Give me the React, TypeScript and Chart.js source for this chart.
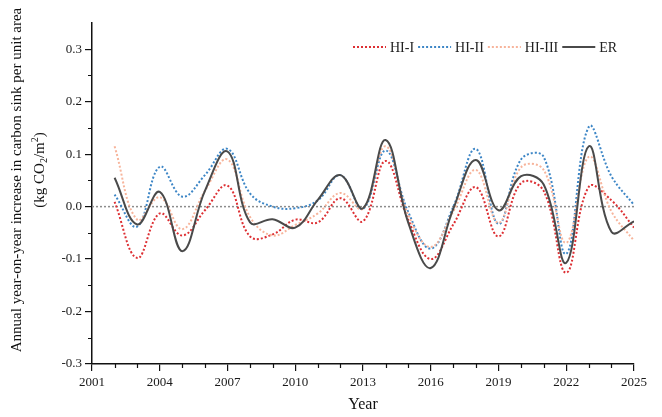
import React, { useEffect, useRef } from 'react';
import { Chart, registerables } from 'chart.js';

Chart.register(...registerables);

const years = [2002, 2003, 2004, 2005, 2006, 2007, 2008, 2009, 2010, 2011, 2012, 2013, 2014, 2015, 2016, 2017, 2018, 2019, 2020, 2021, 2022, 2023, 2024, 2025];

const hiI = [0.009, -0.098, -0.013, -0.055, -0.007, 0.040, -0.057, -0.053, -0.025, -0.030, 0.016, -0.028, 0.087, -0.025, -0.100, -0.034, 0.037, -0.057, 0.045, 0.030, -0.126, 0.038, 0.012, -0.040];
const hiII = [0.023, -0.038, 0.076, 0.019, 0.060, 0.110, 0.025, 0.000, -0.003, 0.012, 0.060, -0.004, 0.107, -0.010, -0.080, 0.000, 0.110, -0.033, 0.090, 0.095, -0.090, 0.152, 0.058, 0.003];
const hiIII = [0.115, -0.025, 0.018, -0.043, 0.030, 0.090, -0.020, -0.055, -0.035, -0.013, 0.026, -0.004, 0.115, -0.015, -0.077, -0.009, 0.070, -0.031, 0.075, 0.070, -0.069, 0.095, -0.009, -0.065];
const er = [0.055, -0.034, 0.028, -0.085, 0.030, 0.105, -0.030, -0.024, -0.040, 0.013, 0.060, -0.003, 0.127, -0.030, -0.117, -0.004, 0.089, -0.007, 0.058, 0.042, -0.107, 0.115, -0.048, -0.028];

const seriesNames = ['HI-I', 'HI-II', 'HI-III', 'ER'];
const xTickValues = [2001, 2004, 2007, 2010, 2013, 2016, 2019, 2022, 2025];
const yTickValues = [-0.3, -0.2, -0.1, 0.0, 0.1, 0.2, 0.3];
const xMinorValues = [2002, 2003, 2005, 2006, 2008, 2009, 2011, 2012, 2014, 2015, 2017, 2018, 2020, 2021, 2023, 2024];
const yMinorValues = [-0.25, -0.15, -0.05, 0.05, 0.15, 0.25];

const FONT = "'Liberation Serif', 'Times New Roman', serif";
const COLORS = ['#dd2f33', '#3d86c6', '#f7b49b', '#4a4a4a'];

const toPts = (arr: number[]) => arr.map((v, i) => ({ x: years[i], y: v }));

const decor = {
  id: 'decor',
  beforeDatasetsDraw(chart: any) {
    const { ctx, chartArea, scales } = chart;
    const y0 = scales.y.getPixelForValue(0);
    ctx.save();
    ctx.strokeStyle = '#8c8c8c';
    ctx.lineWidth = 1.5;
    ctx.setLineDash([2, 2]);
    ctx.beginPath();
    ctx.moveTo(chartArea.left, y0);
    ctx.lineTo(chartArea.right, y0);
    ctx.stroke();
    ctx.restore();
  },
  afterDraw(chart: any) {
    const { ctx, chartArea, scales } = chart;
    const { x, y } = scales;
    ctx.save();
    // minor ticks
    ctx.strokeStyle = '#111';
    ctx.lineWidth = 1.2;
    ctx.beginPath();
    xMinorValues.forEach((v) => {
      const px = Math.round(x.getPixelForValue(v)) + 0.5;
      ctx.moveTo(px, chartArea.bottom);
      ctx.lineTo(px, chartArea.bottom + 4);
    });
    yMinorValues.forEach((v) => {
      const py = Math.round(y.getPixelForValue(v)) + 0.5;
      ctx.moveTo(chartArea.left, py);
      ctx.lineTo(chartArea.left - 4, py);
    });
    ctx.stroke();

    // axis titles
    ctx.fillStyle = '#111';
    ctx.textBaseline = 'middle';
    ctx.textAlign = 'center';
    ctx.font = `16px ${FONT}`;
    ctx.fillText('Year', (chartArea.left + chartArea.right) / 2, 405);

    ctx.save();
    ctx.translate(17, 180);
    ctx.rotate(-Math.PI / 2);
    ctx.font = `15px ${FONT}`;
    ctx.textAlign = 'center';
    ctx.fillText('Annual year-on-year increase in carbon sink per unit area', 0, 0);
    ctx.restore();

    // second line with sub/superscripts
    ctx.save();
    ctx.translate(40, 170);
    ctx.rotate(-Math.PI / 2);
    const big = `15px ${FONT}`;
    const small = `10px ${FONT}`;
    const parts: [string, string, number][] = [
      ['(kg CO', big, 0],
      ['2', small, 4],
      ['/m', big, 0],
      ['2', small, -5],
      [')', big, 0],
    ];
    let total = 0;
    parts.forEach(([t, f]) => { ctx.font = f; total += ctx.measureText(t).width; });
    let cx = -total / 2;
    ctx.textAlign = 'left';
    parts.forEach(([t, f, dy]) => {
      ctx.font = f;
      ctx.fillText(t, cx, dy);
      cx += ctx.measureText(t).width;
    });
    ctx.restore();

    // legend
    const ly = 47;
    let lx = 353;
    ctx.font = `14px ${FONT}`;
    ctx.textAlign = 'left';
    seriesNames.forEach((name, i) => {
      ctx.strokeStyle = COLORS[i];
      ctx.lineWidth = 2;
      ctx.setLineDash(i === 3 ? [] : [2, 2]);
      ctx.beginPath();
      ctx.moveTo(lx, ly);
      ctx.lineTo(lx + 33, ly);
      ctx.stroke();
      ctx.setLineDash([]);
      ctx.fillStyle = '#222';
      ctx.fillText(name, lx + 37, ly + 1);
      lx = lx + 37 + ctx.measureText(name).width + 4;
    });
    ctx.restore();
  },
};

export default function App() {
  const ref = useRef<HTMLCanvasElement | null>(null);

  useEffect(() => {
    if (!ref.current) return;
    const mk = (i: number, data: number[], order: number) => ({
      label: seriesNames[i],
      data: toPts(data),
      borderColor: COLORS[i],
      backgroundColor: COLORS[i],
      borderWidth: 2,
      borderDash: i === 3 ? [] : [2, 2],
      pointRadius: 0,
      tension: 0.4,
      fill: false,
      order,
    });
    const chart = new Chart(ref.current, {
      type: 'line',
      data: {
        datasets: [mk(0, hiI, 3), mk(1, hiII, 2), mk(2, hiIII, 1), mk(3, er, 0)],
      },
      options: {
        animation: false,
        responsive: false,
        devicePixelRatio: 1,
        layout: { padding: { left: 0, right: 28, top: 23, bottom: 0 } },
        plugins: { legend: { display: false }, tooltip: { enabled: false } },
        scales: {
          x: {
            type: 'linear',
            min: 2001,
            max: 2025,
            afterFit: (s: any) => { s.height = 53; },
            afterBuildTicks: (s: any) => { s.ticks = xTickValues.map((v) => ({ value: v })); },
            ticks: {
              callback: (v: any) => String(v),
              font: { family: FONT, size: 13 },
              color: '#1a1a1a',
              padding: 4,
              maxRotation: 0,
            },
            grid: { display: true, drawOnChartArea: false, drawTicks: true, tickLength: 7, color: '#111', lineWidth: 1.2 },
            border: { display: true, color: '#111', width: 1.5 },
          },
          y: {
            type: 'linear',
            min: -0.3,
            max: 0.35,
            afterFit: (s: any) => { s.width = 92; },
            afterBuildTicks: (s: any) => { s.ticks = yTickValues.map((v) => ({ value: v })); },
            ticks: {
              callback: (v: any) => Number(v).toFixed(1),
              font: { family: FONT, size: 13 },
              color: '#1a1a1a',
              padding: 3,
            },
            grid: { display: true, drawOnChartArea: false, drawTicks: true, tickLength: 7, color: '#111', lineWidth: 1.2 },
            border: { display: true, color: '#111', width: 1.5 },
          },
        },
      },
      plugins: [decor],
    });
    return () => chart.destroy();
  }, []);

  return (
    <div style={{ position: 'absolute', left: 0, top: 0, width: 662, height: 417, background: '#fff' }}>
      <canvas ref={ref} width={662} height={417} />
    </div>
  );
}
